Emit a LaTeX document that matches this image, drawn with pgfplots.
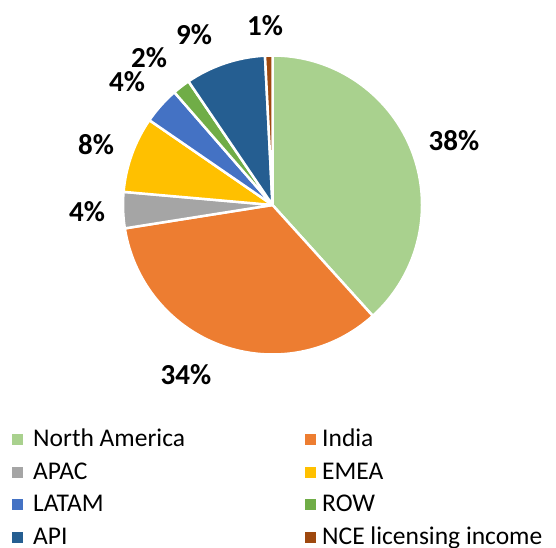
\documentclass[border=0pt]{standalone}
\usepackage{pgfplots}
\usepackage{pgfplotstable}
\pgfplotsset{compat=1.18}
\usepackage{fontspec}
\setmainfont{Carlito}
\definecolor{c0}{HTML}{A9D18E}
\definecolor{c1}{HTML}{ED7D31}
\definecolor{c2}{HTML}{A5A5A5}
\definecolor{c3}{HTML}{FFC000}
\definecolor{c4}{HTML}{4472C4}
\definecolor{c5}{HTML}{70AD47}
\definecolor{c6}{HTML}{255E91}
\definecolor{c7}{HTML}{9E480E}
\tikzset{
  lbl/.style={font=\bfseries\fontsize{29}{31}\selectfont, inner sep=0pt},
  leg/.style={font=\fontsize{25.5}{27}\selectfont, inner sep=0pt, anchor=base west},
  slice/.style={draw=white, line width=2.5pt, line join=round}
}
\pgfplotstableread{
name value lx ly
{North America} 38.3 454 141
India 34.2 186 375
APAC 3.9 87 212
EMEA 8.2 96 145
LATAM 4.0 127 82
ROW 1.9 149 58
API 8.7 194 35
{NCE licensing income} 0.8 265 26
}\data
\begin{document}
\begin{tikzpicture}
\begin{axis}[hide axis, scale only axis, width=556pt, height=547pt,
  xmin=0, xmax=556, ymin=-547, ymax=0, clip=false]
\def\cum{0}
\pgfplotsforeachungrouped \i in {0,...,7}{%
  \pgfplotstablegetelem{\i}{value}\of\data \let\v\pgfplotsretval
  \pgfplotstablegetelem{\i}{lx}\of\data \let\lx\pgfplotsretval
  \pgfplotstablegetelem{\i}{ly}\of\data \let\ly\pgfplotsretval
  \pgfplotstablegetelem{\i}{name}\of\data \let\nm\pgfplotsretval
  \pgfmathsetmacro\a{90-3.6*\cum}%
  \pgfmathsetmacro\b{90-3.6*(\cum+\v)}%
  \pgfmathsetmacro\cum{\cum+\v}%
  \pgfmathtruncatemacro\p{round(\v)}%
  \pgfmathtruncatemacro\col{mod(\i,2)}%
  \pgfmathtruncatemacro\row{floor(\i/2)}%
  \pgfmathsetmacro\bx{\col==0 ? 17 : 310}%
  \pgfmathsetmacro\tx{\col==0 ? 33 : 322}%
  \pgfmathsetmacro\by{446.5+32.5*\row}%
  \edef\temp{%
    \noexpand\fill[c\i, slice] (axis cs:272.5,-205) -- ++(\a:149.5pt) arc[start angle=\a, end angle=\b, radius=149.5pt] -- cycle;
    \noexpand\node[lbl] at (axis cs:\lx,-\ly) {\p\noexpand\%};
    \noexpand\fill[c\i] (axis cs:\bx-5.5,-\by+1.5) rectangle (axis cs:\bx+5.5,-\by+12.5);
    \noexpand\node[leg] at (axis cs:\tx,-\by) {\nm};
  }\temp
}
\coordinate (ll) at (axis cs:0,-547);
\coordinate (ur) at (axis cs:556,0);
\end{axis}
\pgfresetboundingbox
\useasboundingbox (ll) rectangle (ur);
\end{tikzpicture}
\end{document}
